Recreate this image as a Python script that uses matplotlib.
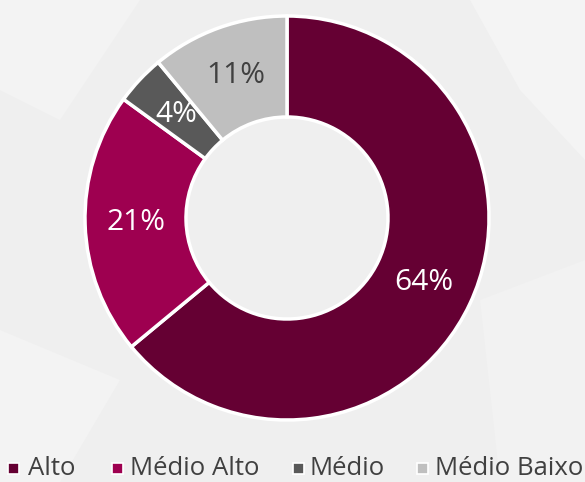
import matplotlib
matplotlib.use("Agg")
import matplotlib.pyplot as plt
from matplotlib.patches import Polygon, Rectangle

categories = ["Alto", "Médio Alto", "Médio", "Médio Baixo"]
values = [64, 21, 4, 11]
colors = ["#650033", "#9e0050", "#595959", "#bfbfbf"]
label_colors = ["white", "white", "white", "#404040"]

plt.rcParams['font.family'] = ['Open Sans', 'DejaVu Sans']

fig = plt.figure(figsize=(5.85, 4.82), dpi=100)
fig.patch.set_facecolor("#efefef")

# faint background shapes (pixel coordinates, y downward)
bg = fig.add_axes([0, 0, 1, 1])
bg.set_xlim(0, 585); bg.set_ylim(482, 0); bg.axis("off")
bg.add_patch(Polygon([[0, 0], [140, 0], [60, 120], [0, 90]], closed=True, color="#f3f3f3", lw=0))
bg.add_patch(Polygon([[470, 0], [585, 0], [585, 160], [520, 90]], closed=True, color="#f4f4f4", lw=0))
bg.add_patch(Polygon([[480, 300], [585, 260], [585, 482], [500, 482]], closed=True, color="#f2f2f2", lw=0))
bg.add_patch(Polygon([[0, 330], [120, 380], [60, 482], [0, 482]], closed=True, color="#f3f3f3", lw=0))

ax = fig.add_axes([85/585, (482-218-202)/482, 404/585, 404/482])
ax.set_facecolor("none")
wedges, texts, autotexts = ax.pie(
    values, colors=colors, startangle=90, counterclock=False,
    autopct="%d%%", pctdistance=0.75,
    wedgeprops=dict(width=0.5, edgecolor="white", linewidth=2.5),
    textprops=dict(fontsize=21.5),
)
for t, c in zip(autotexts, label_colors):
    t.set_color(c)
ax.set_xlim(-1.0, 1.0); ax.set_ylim(-1.0, 1.0)
ax.set_aspect("equal")

# legend laid out manually
marker_x = [8, 112, 293, 417]
text_x = [28, 130, 310, 435]
for mx, tx, c, lab in zip(marker_x, text_x, colors, categories):
    bg.add_patch(Rectangle((mx, 463), 11, 11, facecolor=c, edgecolor="white", lw=1.2))
    bg.text(tx, 475, lab, fontsize=18.5, color="#404040", ha="left", va="baseline")

fig.savefig("out.png", dpi=100, facecolor=fig.get_facecolor())
